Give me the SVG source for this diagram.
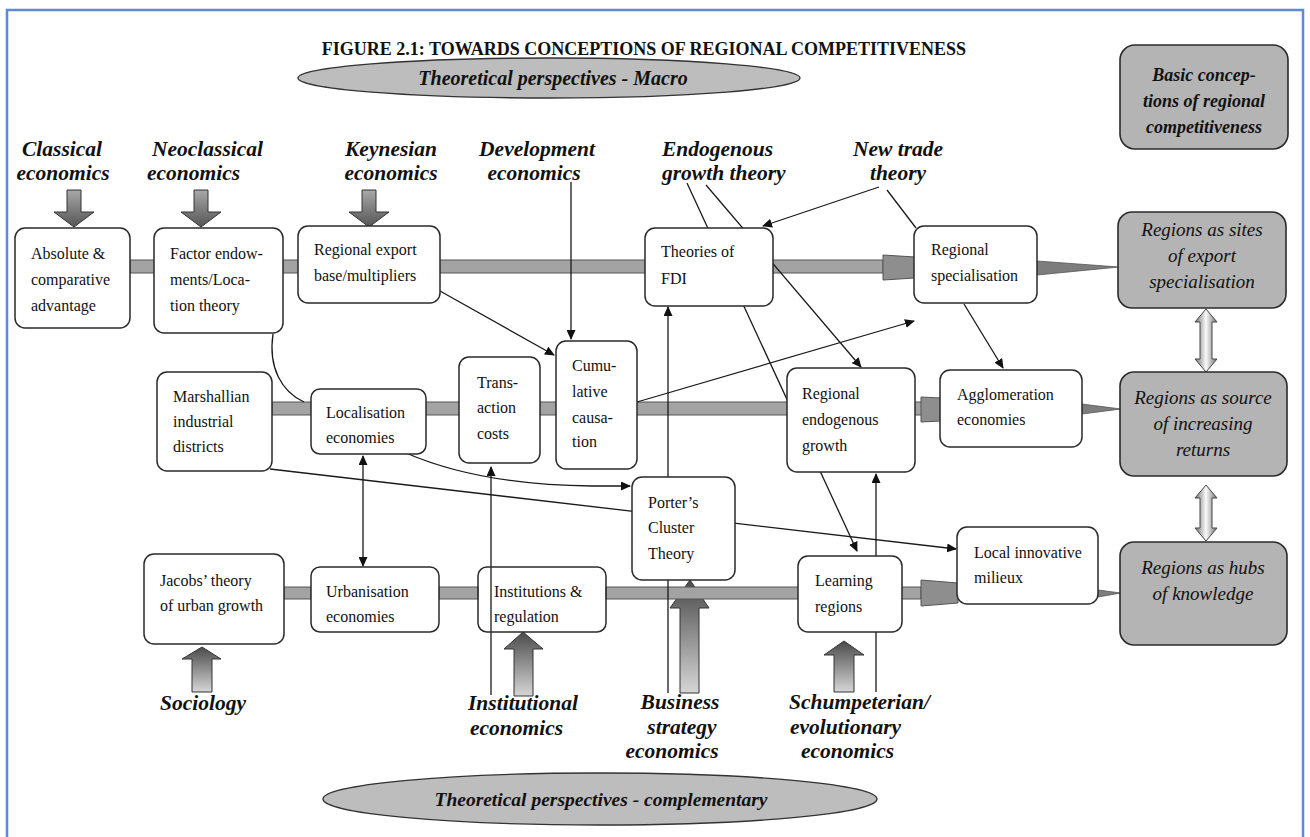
<svg xmlns="http://www.w3.org/2000/svg" width="1310" height="837" viewBox="0 0 1310 837">
<style>
.box{fill:#fff;stroke:#2a2a2a;stroke-width:1.5}
.gbox{fill:#b4b4b4;stroke:#2a2a2a;stroke-width:1.6}
.ell{fill:#bdbdbd;stroke:#333;stroke-width:1.4}
.t{font-family:"Liberation Serif","Times New Roman",serif;font-size:16px;fill:#111}
.gi{font-family:"Liberation Serif","Times New Roman",serif;font-size:19px;font-style:italic;fill:#111;text-anchor:middle}
.bi{font-family:"Liberation Serif","Times New Roman",serif;font-size:21.5px;font-style:italic;font-weight:bold;fill:#111}
.bim{font-family:"Liberation Serif","Times New Roman",serif;font-style:italic;font-weight:bold;fill:#111;text-anchor:middle}
.ttl{font-family:"Liberation Serif","Times New Roman",serif;font-size:18px;font-weight:bold;fill:#111;text-anchor:middle}
.bar{fill:#a3a3a3;stroke:#555;stroke-width:1}
.head{fill:#8e8e8e;stroke:#555;stroke-width:1}
.wedge{fill:#7d7d7d;stroke:#555;stroke-width:0.8}
.ln{fill:none;stroke:#1a1a1a;stroke-width:1.3}
.up{fill:url(#gUp);stroke:#333;stroke-width:1}
.dn{fill:url(#gDown);stroke:#333;stroke-width:1}
.dbl{fill:url(#gDbl);stroke:#444;stroke-width:1}
</style>
<defs>
<marker id="ah" markerWidth="10" markerHeight="9" refX="9" refY="4.5" orient="auto-start-reverse" markerUnits="userSpaceOnUse">
<path d="M0,0 L10,4.5 L0,9 z" fill="#111"/>
</marker>
<linearGradient id="gDown" x1="0" y1="0" x2="0" y2="1">
<stop offset="0" stop-color="#a8a8a8"/><stop offset="1" stop-color="#555"/>
</linearGradient>
<linearGradient id="gUp" x1="0" y1="0" x2="0" y2="1">
<stop offset="0" stop-color="#4a4a4a"/><stop offset="1" stop-color="#d6d6d6"/>
</linearGradient>
<linearGradient id="gDbl" x1="0" y1="0" x2="1" y2="0">
<stop offset="0" stop-color="#707070"/><stop offset="0.5" stop-color="#fafafa"/><stop offset="1" stop-color="#707070"/>
</linearGradient>
<path id="downArrow" d="M-7,0 H7 V22 H20 L0,37 L-20,22 H-7 Z"/>
</defs>

<rect x="0" y="0" width="1310" height="837" fill="#fff"/>
<rect x="7" y="10" width="1296" height="845" fill="none" stroke="#5c8ccf" stroke-width="2.5"/>

<text class="ttl" x="644" y="55">FIGURE 2.1: TOWARDS CONCEPTIONS OF REGIONAL COMPETITIVENESS</text>

<g id="macro">
<ellipse class="ell" cx="549" cy="78" rx="251" ry="20"/>
<text class="bim" x="553" y="85" font-size="20">Theoretical perspectives - Macro</text>
</g>
<g id="complementary">
<ellipse class="ell" cx="600" cy="799" rx="277" ry="26"/>
<text class="bim" x="601" y="806" font-size="19.5">Theoretical perspectives - complementary</text>
</g>

<g id="basic">
<rect class="gbox" x="1120" y="45" width="168" height="104" rx="15"/>
<text class="bim" font-size="18"><tspan x="1204" y="81">Basic concep-</tspan><tspan x="1204" y="107">tions of regional</tspan><tspan x="1204" y="133">competitiveness</tspan></text>
</g>

<!-- perspective labels -->
<g id="classical"><text class="bi" text-anchor="middle"><tspan x="62" y="156">Classical</tspan><tspan x="63" y="180">economics</tspan></text><use href="#downArrow" class="dn" transform="translate(74,190)"/></g>
<g id="neoclassical"><text class="bi"><tspan x="152" y="156">Neoclassical</tspan><tspan x="147" y="180">economics</tspan></text><use href="#downArrow" class="dn" transform="translate(201,190)"/></g>
<g id="keynesian"><text class="bi" text-anchor="middle"><tspan x="391" y="156">Keynesian</tspan><tspan x="391" y="180">economics</tspan></text><use href="#downArrow" class="dn" transform="translate(369,190)"/></g>
<g id="development"><text class="bi" text-anchor="middle"><tspan x="537" y="156">Development</tspan><tspan x="534" y="180">economics</tspan></text></g>
<g id="endogenous"><text class="bi"><tspan x="662" y="156">Endogenous</tspan><tspan x="662" y="180">growth theory</tspan></text></g>
<g id="newtrade"><text class="bi" text-anchor="middle"><tspan x="898" y="156">New trade</tspan><tspan x="898" y="180">theory</tspan></text></g>
<g id="sociology"><text class="bi" x="160" y="710">Sociology</text><polygon class="up" points="202,647 221,659 212,659 212,692 192,692 192,659 182,659"/></g>
<g id="institutional"><text class="bi"><tspan x="468" y="710">Institutional</tspan><tspan x="470" y="735">economics</tspan></text><polygon class="up" points="523,632 543,649 533,649 533,696 514,696 514,649 504,649"/></g>
<g id="business"><text class="bi" text-anchor="middle"><tspan x="680" y="709">Business</tspan><tspan x="682" y="734">strategy</tspan><tspan x="672" y="758">economics</tspan></text><polygon class="up" points="690,580 709,608 699,608 699,693 680,693 680,608 670,608"/></g>
<g id="schumpeterian"><text class="bi"><tspan x="789" y="709">Schumpeterian/</tspan><tspan x="790" y="734">evolutionary</tspan><tspan x="801" y="758">economics</tspan></text><polygon class="up" points="844,641 864,655 854,655 854,692 834,692 834,655 824,655"/></g>

<!-- thick flow bars -->
<g id="bars">
<rect class="bar" x="130" y="260" width="753" height="13"/>
<polygon class="head" points="883,255 915,257 915,278 883,280"/>
<polygon class="wedge" points="1037,261 1119,267 1037,275"/>
<rect class="bar" x="272" y="402" width="650" height="13"/>
<polygon class="head" points="921,397 941,398 941,421 921,422"/>
<polygon class="wedge" points="1082,404 1121,409 1082,414"/>
<rect class="bar" x="284" y="587" width="27" height="12"/>
<rect class="bar" x="439" y="587" width="39" height="12"/>
<rect class="bar" x="606" y="587" width="315" height="12"/>
<polygon class="head" points="921,580 958,583 958,603 921,606"/>
<polygon class="wedge" points="1098,590 1121,593 1098,597"/>
<polygon class="dbl" points="1206,309 1217,322 1212,322 1212,359 1217,359 1206,372 1195,359 1200,359 1200,322 1195,322"/>
<polygon class="dbl" points="1206,485 1217,498 1212,498 1212,528 1217,528 1206,541 1195,528 1200,528 1200,498 1195,498"/>
</g>

<!-- connectors -->
<g id="connectors">
<path class="ln" d="M571,182 V339" marker-end="url(#ah)"/>
<path class="ln" d="M440,291 L554,355" marker-end="url(#ah)"/>
<path class="ln" d="M273,334 C268,368 282,392 304,402"/>
<path class="ln" d="M270,469 L956,549" marker-end="url(#ah)"/>
<path class="ln" d="M406,453 Q480,485 592,486 L630,486" marker-end="url(#ah)"/>
<path class="ln" d="M363,456 V566" marker-start="url(#ah)" marker-end="url(#ah)"/>
<path class="ln" d="M668,693 V307" marker-end="url(#ah)"/>
<path class="ln" d="M687,183 L857,551" marker-end="url(#ah)"/>
<path class="ln" d="M706,185 L861,367" marker-end="url(#ah)"/>
<path class="ln" d="M879,187 L763,226" marker-end="url(#ah)"/>
<path class="ln" d="M887,190 L916,228"/>
<path class="ln" d="M964,304 L1003,368" marker-end="url(#ah)"/>
<path class="ln" d="M637,402 L914,321" marker-end="url(#ah)"/>
<path class="ln" d="M876,692 V474" marker-end="url(#ah)"/>
<path class="ln" d="M491,695 V467" marker-end="url(#ah)"/>
</g>

<!-- nodes -->
<g id="absolute"><rect class="box" x="15" y="228" width="115" height="100" rx="10"/><text class="t"><tspan x="31" y="259">Absolute &amp;</tspan><tspan x="31" y="285">comparative</tspan><tspan x="31" y="311">advantage</tspan></text></g>
<g id="factor"><rect class="box" x="154" y="228" width="129" height="105" rx="10"/><text class="t"><tspan x="170" y="259">Factor endow-</tspan><tspan x="170" y="285">ments/Loca-</tspan><tspan x="170" y="311">tion theory</tspan></text></g>
<g id="export"><rect class="box" x="298" y="226" width="142" height="77" rx="10"/><text class="t"><tspan x="314" y="255">Regional export</tspan><tspan x="314" y="281">base/multipliers</tspan></text></g>
<g id="fdi"><rect class="box" x="645" y="228" width="128" height="78" rx="10"/><text class="t"><tspan x="661" y="257">Theories of</tspan><tspan x="661" y="284">FDI</tspan></text></g>
<g id="regspec"><rect class="box" x="914" y="226" width="123" height="77" rx="10"/><text class="t"><tspan x="931" y="255">Regional</tspan><tspan x="931" y="281">specialisation</tspan></text></g>
<g id="sites"><rect class="gbox" x="1118" y="212" width="168" height="96" rx="14"/><text class="gi"><tspan x="1202" y="236">Regions as sites</tspan><tspan x="1202" y="262">of export</tspan><tspan x="1202" y="288">specialisation</tspan></text></g>

<g id="marshallian"><rect class="box" x="157" y="372" width="115" height="99" rx="10"/><text class="t"><tspan x="173" y="402">Marshallian</tspan><tspan x="173" y="427">industrial</tspan><tspan x="173" y="452">districts</tspan></text></g>
<g id="localisation"><rect class="box" x="311" y="389" width="115" height="65" rx="9"/><text class="t"><tspan x="326" y="418">Localisation</tspan><tspan x="326" y="443">economies</tspan></text></g>
<g id="transaction"><rect class="box" x="459" y="357" width="81" height="106" rx="10"/><text class="t"><tspan x="477" y="388">Trans-</tspan><tspan x="477" y="413">action</tspan><tspan x="477" y="439">costs</tspan></text></g>
<g id="cumulative"><rect class="box" x="556" y="341" width="81" height="128" rx="10"/><text class="t"><tspan x="572" y="371">Cumu-</tspan><tspan x="572" y="397">lative</tspan><tspan x="572" y="423">causa-</tspan><tspan x="572" y="447">tion</tspan></text></g>
<g id="regendog"><rect class="box" x="787" y="368" width="128" height="104" rx="10"/><text class="t"><tspan x="802" y="399">Regional</tspan><tspan x="802" y="425">endogenous</tspan><tspan x="802" y="451">growth</tspan></text></g>
<g id="agglomeration"><rect class="box" x="940" y="370" width="142" height="77" rx="10"/><text class="t"><tspan x="957" y="400">Agglomeration</tspan><tspan x="957" y="425">economies</tspan></text></g>
<g id="source"><rect class="gbox" x="1120" y="372" width="167" height="104" rx="14"/><text class="gi"><tspan x="1203" y="404">Regions as source</tspan><tspan x="1203" y="430">of increasing</tspan><tspan x="1203" y="456">returns</tspan></text></g>

<g id="porter"><rect class="box" x="632" y="477" width="103" height="103" rx="10"/><text class="t"><tspan x="648" y="508">Porter’s</tspan><tspan x="648" y="533">Cluster</tspan><tspan x="648" y="559">Theory</tspan></text></g>
<g id="jacobs"><rect class="box" x="144" y="554" width="140" height="90" rx="10"/><text class="t"><tspan x="160" y="586">Jacobs’ theory</tspan><tspan x="160" y="611">of urban growth</tspan></text></g>
<g id="urbanisation"><rect class="box" x="311" y="567" width="128" height="65" rx="9"/><text class="t"><tspan x="326" y="597">Urbanisation</tspan><tspan x="326" y="622">economies</tspan></text></g>
<g id="institutions"><rect class="box" x="478" y="567" width="128" height="65" rx="9" style="fill:none"/><text class="t"><tspan x="494" y="597">Institutions &amp;</tspan><tspan x="494" y="622">regulation</tspan></text></g>
<g id="learning"><rect class="box" x="798" y="556" width="104" height="76" rx="10"/><text class="t"><tspan x="815" y="586">Learning</tspan><tspan x="815" y="612">regions</tspan></text></g>
<g id="localinnov"><rect class="box" x="957" y="527" width="141" height="77" rx="10"/><text class="t"><tspan x="974" y="558">Local innovative</tspan><tspan x="974" y="583">milieux</tspan></text></g>
<g id="hubs"><rect class="gbox" x="1120" y="542" width="167" height="103" rx="14"/><text class="gi"><tspan x="1203" y="574">Regions as hubs</tspan><tspan x="1203" y="600">of knowledge</tspan></text></g>
</svg>
